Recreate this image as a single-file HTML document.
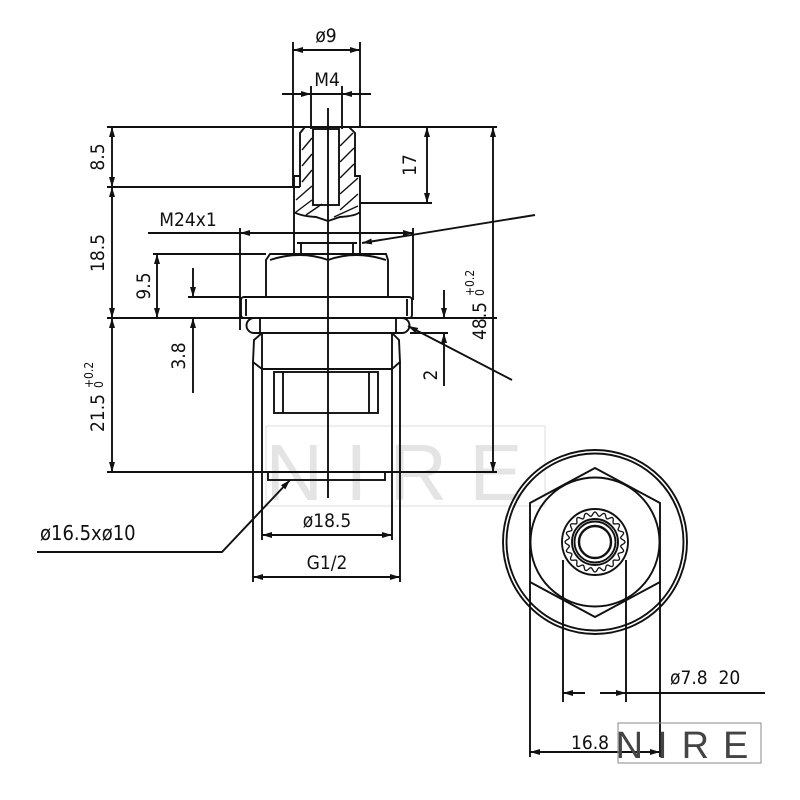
<!DOCTYPE html>
<html><head><meta charset="utf-8"><style>
html,body{margin:0;padding:0;background:#fff}
svg{display:block}
text{font-family:"DejaVu Sans Condensed","DejaVu Sans","Liberation Sans",sans-serif;fill:#111}
</style></head><body>
<svg width="800" height="800" viewBox="0 0 800 800" xmlns="http://www.w3.org/2000/svg">
<defs>
<marker id="a" viewBox="0 0 10 6" refX="10" refY="3" markerWidth="10" markerHeight="6" orient="auto-start-reverse" markerUnits="userSpaceOnUse"><path d="M0,0 L10,3 L0,6 z" fill="#111"/></marker>
</defs>
<g stroke="#ddd" fill="none" stroke-width="1"><rect x="266" y="426" width="279" height="80"/></g>
<text x="405" y="500" font-size="80" text-anchor="middle" style="fill:#e4e4e4;font-family:'Liberation Sans',sans-serif" letter-spacing="22">NIRE</text>

<g stroke="#111" stroke-width="1.9" fill="none">
<line x1="328" y1="108" x2="328" y2="498"/>
<line x1="293" y1="42" x2="293" y2="187"/><line x1="360" y1="42" x2="360" y2="127"/>
<line x1="293" y1="50" x2="360" y2="50" marker-start="url(#a)" marker-end="url(#a)"/>
<line x1="311" y1="86" x2="311" y2="129"/><line x1="342" y1="86" x2="342" y2="129"/>
<line x1="282" y1="94" x2="311" y2="94" marker-end="url(#a)"/><line x1="371" y1="94" x2="342" y2="94" marker-end="url(#a)"/>
<line x1="311" y1="94" x2="342" y2="94"/>
<line x1="107" y1="127" x2="497" y2="127"/>
<line x1="112" y1="127" x2="112" y2="187" marker-start="url(#a)" marker-end="url(#a)"/>
<line x1="107" y1="187" x2="294" y2="187"/>
<line x1="112" y1="187" x2="112" y2="318" marker-start="url(#a)" marker-end="url(#a)"/>
<line x1="107" y1="318" x2="497" y2="318"/>
<line x1="112" y1="318" x2="112" y2="472" marker-start="url(#a)" marker-end="url(#a)"/>
<line x1="107" y1="472" x2="497" y2="472"/>
<line x1="493" y1="127" x2="493" y2="472" marker-start="url(#a)" marker-end="url(#a)"/>
<line x1="360" y1="203" x2="432" y2="203"/>
<line x1="427" y1="127" x2="427" y2="203" marker-start="url(#a)" marker-end="url(#a)"/>
<path d="M300,187 L300,133 L305,127 L349,127 L355,133 L355,176 L360,176 L360,187 L360,253 M300,187 L294,187 L294,253"/>
<path d="M300,176 L294,176 L294,187"/>
<rect x="313" y="129" width="26" height="76"/>
<path d="M294,212 Q300,216 316,217 L328,221 L340,217 Q356,216 360,212"/>
<line x1="297" y1="243" x2="357" y2="243"/>
<line x1="301" y1="243" x2="301" y2="254"/><line x1="353" y1="243" x2="353" y2="254"/>
</g>
<g stroke="#111" stroke-width="1.4">
<line x1="302" y1="150" x2="312" y2="138"/><line x1="302" y1="166" x2="312" y2="154"/><line x1="302" y1="182" x2="312" y2="170"/>
<line x1="296" y1="200" x2="312" y2="186"/><line x1="296" y1="212" x2="312" y2="200"/><line x1="306" y1="215" x2="322" y2="204"/>
<line x1="340" y1="146" x2="353" y2="133"/><line x1="340" y1="162" x2="354" y2="148"/><line x1="340" y1="178" x2="354" y2="164"/>
<line x1="340" y1="194" x2="358" y2="178"/><line x1="340" y1="210" x2="358" y2="194"/><line x1="334" y1="217" x2="358" y2="206"/>
</g>
<g stroke="#111" stroke-width="1.9" fill="none">
<line x1="148" y1="233" x2="413" y2="233"/>
<line x1="260" y1="233" x2="240" y2="233" marker-end="url(#a)"/>
<line x1="393" y1="233" x2="413" y2="233" marker-end="url(#a)"/>
<line x1="240" y1="228" x2="240" y2="330"/><line x1="413" y1="228" x2="413" y2="300"/>
<line x1="535" y1="215" x2="362" y2="243" marker-end="url(#a)"/>
<path d="M266,297 L266,260 L270,254 L386,254 L388,260 L388,297"/>
<path d="M270,260 Q300,250 328,260 Q356,250 386,260"/>
<rect x="241" y="297" width="171" height="21" rx="3"/>
<line x1="246" y1="299" x2="246" y2="316"/><line x1="407" y1="299" x2="407" y2="316"/>
<path d="M254,318 L402,318 A7.5,7.5 0 0 1 402,333 L254,333 A7.5,7.5 0 0 1 254,318 Z"/>
<line x1="260" y1="318" x2="260" y2="333"/><line x1="396" y1="318" x2="396" y2="333"/>
<path d="M262,333 L254,340 L253,362 L262,369 L392,369 L400,362 L399,340 L392,333"/>
<line x1="262" y1="333" x2="262" y2="472"/><line x1="392" y1="333" x2="392" y2="472"/>
<rect x="274" y="372" width="104" height="41"/>
<line x1="283" y1="372" x2="283" y2="413"/><line x1="369" y1="372" x2="369" y2="413"/>
<rect x="268" y="472" width="117" height="8"/>
<line x1="153" y1="254" x2="266" y2="254"/>
<line x1="157" y1="254" x2="157" y2="318" marker-start="url(#a)" marker-end="url(#a)"/>
<line x1="188" y1="297" x2="241" y2="297"/>
<line x1="193" y1="268" x2="193" y2="297" marker-end="url(#a)"/>
<line x1="193" y1="393" x2="193" y2="318" marker-end="url(#a)"/>
<line x1="410" y1="333" x2="448" y2="333"/>
<line x1="444" y1="290" x2="444" y2="318" marker-end="url(#a)"/>
<line x1="444" y1="386" x2="444" y2="333" marker-end="url(#a)"/>
<line x1="512" y1="380" x2="408" y2="326" marker-end="url(#a)"/>
<line x1="262" y1="472" x2="262" y2="540"/><line x1="392" y1="472" x2="392" y2="540"/>
<line x1="262" y1="535" x2="392" y2="535" marker-start="url(#a)" marker-end="url(#a)"/>
<line x1="253" y1="362" x2="253" y2="582"/><line x1="400" y1="362" x2="400" y2="582"/>
<line x1="253" y1="577" x2="400" y2="577" marker-start="url(#a)" marker-end="url(#a)"/>
<polyline points="37,552 222,552 290,480" marker-end="url(#a)"/>

<circle cx="595" cy="542" r="92"/><circle cx="595" cy="542" r="88.5"/>
<polygon points="595,468 660,503 660,582 595,617 530,582 530,503"/>
<circle cx="595" cy="542" r="64.5"/>
<circle cx="595" cy="542" r="33"/>
<path id="gear" stroke-width="1.3"/>
<circle cx="595" cy="542" r="23"/><circle cx="595" cy="542" r="20.5"/>
<circle cx="595" cy="542" r="16" stroke-width="2.4"/>
<line x1="563" y1="560" x2="563" y2="702"/><line x1="626" y1="560" x2="626" y2="702"/>
<line x1="600" y1="693" x2="765" y2="693"/>
<line x1="585" y1="693" x2="563" y2="693" marker-end="url(#a)"/>
<line x1="604" y1="693" x2="626" y2="693" marker-end="url(#a)"/>
<line x1="530" y1="582" x2="530" y2="757"/><line x1="660" y1="582" x2="660" y2="757"/>
<line x1="530" y1="752" x2="660" y2="752" marker-start="url(#a)" marker-end="url(#a)"/>
</g>
<rect x="618" y="723" width="143" height="40" fill="none" stroke="#888" stroke-width="1"/>
<text x="689" y="758" font-size="38" text-anchor="middle" letter-spacing="14" style="fill:#444;font-family:'Liberation Sans',sans-serif">NIRE</text>

<g font-size="19">
<text x="326" y="42" text-anchor="middle">ø9</text>
<text x="327" y="86" text-anchor="middle">M4</text>
<text x="188" y="226" text-anchor="middle">M24x1</text>
<text x="327" y="527" text-anchor="middle">ø18.5</text>
<text x="327" y="569" text-anchor="middle">G1/2</text>
<text x="40" y="540" font-size="20">ø16.5xø10</text>
<text x="670" y="684">ø7.8&#160;&#160;20</text>
<text x="571" y="749">16.8</text>
<text transform="translate(104,157) rotate(-90)" text-anchor="middle">8.5</text>
<text transform="translate(104,253) rotate(-90)" text-anchor="middle">18.5</text>
<text transform="translate(150,286) rotate(-90)" text-anchor="middle">9.5</text>
<text transform="translate(185,356) rotate(-90)" text-anchor="middle">3.8</text>
<text transform="translate(416,165) rotate(-90)" text-anchor="middle">17</text>
<text transform="translate(437,375) rotate(-90)" text-anchor="middle">2</text>
<text transform="translate(104,432) rotate(-90)">21.5</text>
<text transform="translate(93,388) rotate(-90)" font-size="12">+0.2</text>
<text transform="translate(103,388) rotate(-90)" font-size="12">0</text>
<text transform="translate(486,340) rotate(-90)">48.5</text>
<text transform="translate(474,296) rotate(-90)" font-size="12">+0.2</text>
<text transform="translate(484,296) rotate(-90)" font-size="12">0</text>
</g>
</svg>
<script>
(function(){var cx=595,cy=542,n=20,d="";for(var i=0;i<=360;i++){var t=i*Math.PI/180;var r=28+2*Math.cos(n*t);var x=cx+r*Math.cos(t),y=cy+r*Math.sin(t);d+=(i?"L":"M")+x.toFixed(2)+","+y.toFixed(2);}document.getElementById("gear").setAttribute("d",d+"Z");})();
</script>
</body></html>
